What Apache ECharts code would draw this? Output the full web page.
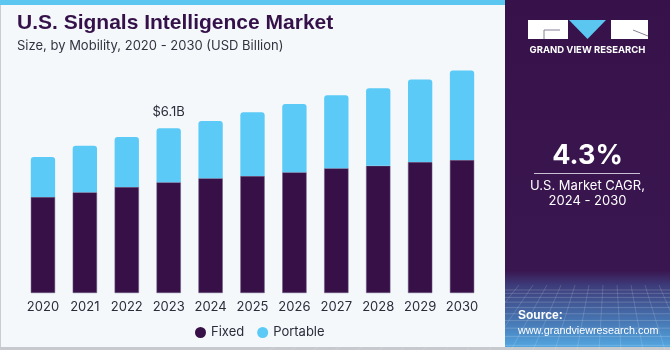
<!DOCTYPE html>
<html>
<head>
<meta charset="utf-8">
<script src="https://cdn.jsdelivr.net/npm/echarts@6/dist/echarts.min.js"></script>
<style>
html,body{margin:0;padding:0;background:#f4f8fb;}
#c{width:670px;height:350px;}
</style>
</head>
<body>
<div id="c"></div>
<script>
var years = ['2020','2021','2022','2023','2024','2025','2026','2027','2028','2029','2030'];
var fixed = [3.56, 3.73, 3.93, 4.10, 4.25, 4.33, 4.47, 4.62, 4.71, 4.85, 4.93];
var portable = [1.48, 1.72, 1.85, 2.00, 2.12, 2.36, 2.53, 2.70, 2.87, 3.06, 3.31];
var annotations = {'2023': '$6.1B'};
var cagr = '4.3%';

var font = 'Inter, "Liberation Sans", sans-serif';
var panelX = 505;

var gridLines = [];
for (var i = 0; i < 14; i++) {
  var y = 290 + i * i * 0.35 + i * 3;
  if (y > 348) break;
  gridLines.push({type:'line', shape:{x1:panelX, y1:y, x2:670, y2:y}, style:{stroke:'rgba(255,255,255,0.18)', lineWidth:1}, silent:true});
}
for (var j = -8; j < 20; j++) {
  var xt = panelX + j * 14;
  var xb = panelX + j * 22 - 60;
  gridLines.push({type:'line', shape:{x1:xt, y1:285, x2:xb, y2:350}, style:{stroke:'rgba(255,255,255,0.15)', lineWidth:1}, silent:true});
}

var chart = echarts.init(document.getElementById('c'), null, {renderer:'canvas'});
chart.setOption({
  animation: false,
  backgroundColor: '#f4f8fb',
  grid: {left: 22, right: 187, top: 50, bottom: 57},
  xAxis: {
    type: 'category', data: years,
    axisLine: {show: false}, axisTick: {show: false},
    axisLabel: {color: '#2b2b3a', fontSize: 13, fontFamily: font, margin: 8, interval: 0}
  },
  yAxis: {type: 'value', min: 0, max: 9, show: false, splitLine: {show: false}},
  legend: {
    data: ['Fixed', 'Portable'], left: 190, top: 321, icon: 'circle',
    itemWidth: 11, itemHeight: 11, itemGap: 13,
    itemStyle: {borderWidth: 0},
    textStyle: {color: '#2b2b3a', fontSize: 13, fontFamily: font}
  },
  series: [
    {name: 'Fixed', type: 'bar', stack: 'a', data: fixed, barWidth: '58%',
     itemStyle: {color: '#371048', borderColor: '#6b5a80', borderWidth: 0.5}},
    {name: 'Portable', type: 'bar', stack: 'a', barWidth: '58%',
     data: portable.map(function(v, i){
       var o = {value: v};
       if (annotations[years[i]]) o.label = {show: true, position: 'top', formatter: annotations[years[i]], color: '#2b2b3a', fontSize: 13, fontFamily: font, distance: 10};
       return o;
     }),
     itemStyle: {color: '#5bcaf6', borderRadius: [3, 3, 0, 0]}}
  ],
  graphic: [
    {type: 'rect', shape: {x: 0, y: 0, width: 670, height: 350}, style: {fill: 'none', stroke: '#c9ccd0', lineWidth: 2}, silent: true, z: -1},
    {type: 'rect', shape: {x: 0, y: 0, width: panelX, height: 5}, style: {fill: '#5bc6f0'}, silent: true},
    {type: 'rect', shape: {x: 0, y: 347, width: 670, height: 3}, style: {fill: '#c6c9cd'}, silent: true},
    {type: 'text', left: 17, top: 13, style: {text: 'U.S. Signals Intelligence Market', fill: '#35114a', font: 'bold 21px "Liberation Sans", Arial, sans-serif'}},
    {type: 'text', left: 17, top: 40, style: {text: 'Size, by Mobility, 2020 - 2030 (USD Billion)', fill: '#333340', font: '13px ' + font}},
    {type: 'rect', shape: {x: panelX, y: 0, width: 670 - panelX, height: 347},
     style: {fill: new echarts.graphic.LinearGradient(0, 0, 0, 1, [
       {offset: 0, color: '#37124a'}, {offset: 0.78, color: '#3a1650'}, {offset: 0.82, color: '#3d3a78'}, {offset: 0.92, color: '#4673b0'}, {offset: 1, color: '#53a6e0'}
     ])}, silent: true},
    {type: 'group', children: gridLines, silent: true},
    {type: 'rect', shape: {x: 528, y: 20, width: 40, height: 19}, style: {fill: '#ffffff'}, silent: true},
    {type: 'line', shape: {x1: 544, y1: 30, x2: 560, y2: 30}, style: {stroke: '#8a7f95', lineWidth: 1}, silent: true},
    {type: 'line', shape: {x1: 544, y1: 30, x2: 544, y2: 39}, style: {stroke: '#8a7f95', lineWidth: 1}, silent: true},
    {type: 'polygon', shape: {points: [[569, 20], [606, 20], [587.5, 39]]}, style: {fill: '#5bc6f0'}, silent: true},
    {type: 'rect', shape: {x: 611, y: 20, width: 37, height: 19}, style: {fill: '#ffffff'}, silent: true},
    {type: 'line', shape: {x1: 633, y1: 30, x2: 648, y2: 36}, style: {stroke: '#8a7f95', lineWidth: 1}, silent: true},
    {type: 'text', x: 587.5, y: 50, style: {text: 'GRAND VIEW RESEARCH', fill: '#ffffff', font: 'bold 9.5px ' + font, align: 'center', verticalAlign: 'middle'}},
    {type: 'text', x: 587.5, y: 156, style: {text: cagr, fill: '#ffffff', font: 'bold 27px ' + font, align: 'center', verticalAlign: 'middle'}},
    {type: 'line', shape: {x1: 534, y1: 173.5, x2: 640, y2: 173.5}, style: {stroke: '#c9c0d2', lineWidth: 1}, silent: true},
    {type: 'text', x: 587.5, y: 186, style: {text: 'U.S. Market CAGR,', fill: '#ffffff', font: '13px ' + font, align: 'center', verticalAlign: 'middle'}},
    {type: 'text', x: 587.5, y: 201, style: {text: '2024 - 2030', fill: '#ffffff', font: '13px ' + font, align: 'center', verticalAlign: 'middle'}},
    {type: 'text', x: 518, y: 316, style: {text: 'Source:', fill: '#ffffff', font: 'bold 12px "Liberation Sans", Arial, sans-serif', verticalAlign: 'middle'}},
    {type: 'text', x: 518, y: 331, style: {text: 'www.grandviewresearch.com', fill: '#ffffff', font: '10.8px "Liberation Sans", Arial, sans-serif', verticalAlign: 'middle'}}
  ]
});
</script>
</body>
</html>
